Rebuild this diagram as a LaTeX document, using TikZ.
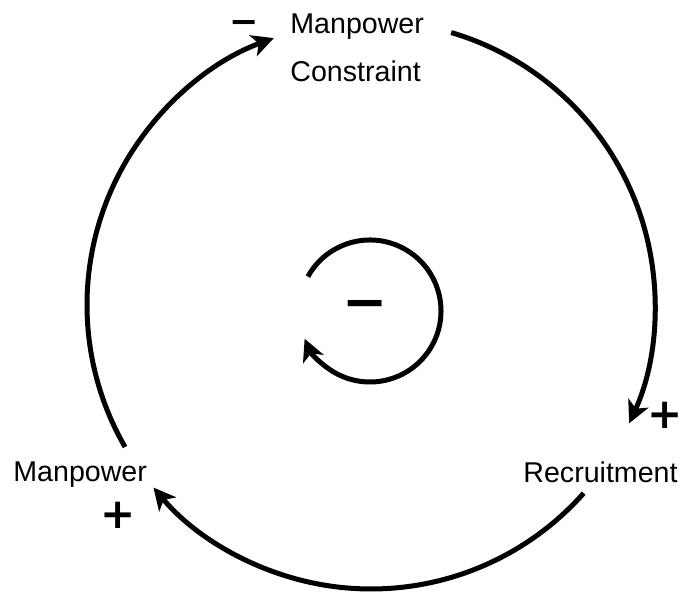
\documentclass[tikz,border=0pt]{standalone}
\usepackage{fontspec}
\setmainfont{Liberation Sans}
\newfontfamily\signfont{DejaVu Sans}
\usetikzlibrary{arrows.meta}
\begin{document}
\begin{tikzpicture}[x=0.5pt,y=0.5pt,link/.style={line width=2.5pt,-{Stealth[length=11pt,width=11pt,inset=3pt]}},term/.style={inner sep=0pt,font=\fontsize{14.3}{24}\selectfont},sign/.style={inner sep=0pt,font=\signfont\bfseries\fontsize{#1}{#1}\selectfont}]
\useasboundingbox (0,0) rectangle (693,593);
\coordinate (O) at (371,288);
\coordinate (I) at (370,282);
\coordinate (mp out) at ([shift={(210:284)}]O);
\coordinate (mc out) at ([shift={(73.6:284)}]O);
\coordinate (rc out) at ([shift={(-41.5:284)}]O);
\coordinate (loop out) at ([shift={(151:71)}]I);
\draw[link] (mp out) arc[start angle=210,end angle=110,radius=284];
\draw[link] (mc out) arc[start angle=73.6,end angle=-24.6,radius=284];
\draw[link] (rc out) arc[start angle=-41.5,end angle=-140,radius=284];
\draw[link] (loop out) arc[start angle=151,end angle=-157,radius=71];
\node[term,anchor=north west,align=left] (mc) at (290,580) {Manpower\\Constraint};
\node[term,anchor=base west] (mp) at (13,111) {Manpower};
\node[term,anchor=base west] (rc) at (523,110) {Recruitment};
\node[sign=17.5] (s1) at (244,566) {−};
\node[sign=21] (s2) at (665,178) {+};
\node[sign=21] (s3) at (118,78) {+};
\node[sign=27] (s4) at (365,283) {−};
\end{tikzpicture}
\end{document}
